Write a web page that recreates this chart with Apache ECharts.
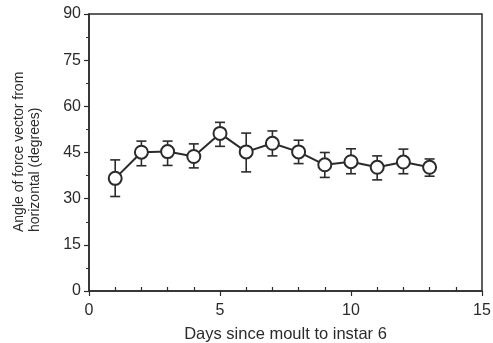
<!DOCTYPE html>
<html>
<head>
<meta charset="utf-8">
<script src="https://cdn.jsdelivr.net/npm/echarts@6/dist/echarts.min.js"></script>
<style>
html, body { margin: 0; padding: 0; background: #fff; }
#main { width: 493px; height: 343px; }
</style>
</head>
<body>
<div id="main"></div>
<script>
// days since moult, mean angle and error bar ends (degrees)
const days = [1, 2, 3, 4, 5, 6, 7, 8, 9, 10, 11, 12, 13]
const meanAngle = [36.6, 45.1, 45.3, 43.7, 51.2, 45.2, 48.0, 45.2, 41.0, 42.0, 40.2, 41.9, 40.2]
const errTop = [42.6, 48.7, 48.7, 47.8, 54.8, 51.3, 52.0, 49.0, 45.0, 46.2, 43.9, 46.1, 42.9]
const errBottom = [30.7, 40.7, 40.8, 40.0, 47.0, 38.7, 43.9, 41.4, 36.9, 38.1, 36.1, 38.1, 37.3]
const yTicks = [0, 15, 30, 45, 60, 75, 90]
const xTicks = [0, 5, 10, 15]

const ink = '#2b2b2b'
const font = 'Liberation Sans, Arial, Helvetica, sans-serif'

const chart = echarts.init(document.getElementById('main'))

chart.setOption({
    backgroundColor: '#fff',
    animation: false,
    grid: {
        left: 89,
        right: 11,
        top: 14,
        bottom: 52,
        outerBoundsMode: 'none',
        show: true,
        borderColor: ink,
        borderWidth: 1.5,
        backgroundColor: 'transparent'
    },
    xAxis: [{
        type: 'value',
        min: xTicks[0],
        max: xTicks[xTicks.length - 1],
        interval: 5,
        name: 'Days since moult to instar 6',
        nameLocation: 'middle',
        nameGap: 35,
        nameTextStyle: { color: ink, fontSize: 16.5, fontFamily: font },
        axisLine: { show: true, lineStyle: { color: ink, width: 1.5 } },
        axisTick: { show: true, length: 5, lineStyle: { color: ink, width: 1.2 } },
        minorTick: { show: false },
        axisLabel: { color: ink, fontSize: 16, fontFamily: font, margin: 12 },
        splitLine: { show: false }
    }, {
        // minor ticks of the x axis point into the plot
        type: 'value',
        position: 'bottom',
        min: xTicks[0],
        max: xTicks[xTicks.length - 1],
        interval: 5,
        axisLine: { show: false },
        axisTick: { show: false, inside: true },
        minorTick: { show: true, splitNumber: 5, length: 4, lineStyle: { color: ink, width: 1.2 } },
        axisLabel: { show: false },
        splitLine: { show: false }
    }],
    yAxis: {
        type: 'value',
        min: yTicks[0],
        max: yTicks[yTicks.length - 1],
        interval: 15,
        axisLine: { show: true, lineStyle: { color: ink, width: 1.5 } },
        axisTick: { show: true, length: 5, lineStyle: { color: ink, width: 1.2 } },
        minorTick: { show: true, splitNumber: 2, length: 3, lineStyle: { color: ink, width: 1 } },
        axisLabel: { color: ink, fontSize: 16, fontFamily: font, margin: 8 },
        splitLine: { show: false }
    },
    graphic: [{
        type: 'text',
        x: 11,
        y: 232,
        rotation: Math.PI / 2,
        style: {
            text: 'Angle of force vector from\nhorizontal (degrees)',
            fill: ink,
            font: '14px ' + font,
            lineHeight: 16,
            align: 'left',
            verticalAlign: 'top'
        }
    }],
    series: [{
        // error bars with caps
        type: 'custom',
        data: days.map((d, i) => [d, errBottom[i], errTop[i]]),
        renderItem: function (params, api) {
            const lo = api.coord([api.value(0), api.value(1)])
            const hi = api.coord([api.value(0), api.value(2)])
            const cap = 5
            const style = { stroke: ink, lineWidth: 1.6 }
            return {
                type: 'group',
                children: [
                    { type: 'line', shape: { x1: hi[0], y1: hi[1], x2: lo[0], y2: lo[1] }, style: style },
                    { type: 'line', shape: { x1: hi[0] - cap, y1: hi[1], x2: hi[0] + cap, y2: hi[1] }, style: style },
                    { type: 'line', shape: { x1: lo[0] - cap, y1: lo[1], x2: lo[0] + cap, y2: lo[1] }, style: style }
                ]
            }
        },
        z: 2
    }, {
        type: 'line',
        data: days.map((d, i) => [d, meanAngle[i]]),
        symbol: 'circle',
        symbolSize: 13,
        lineStyle: { color: ink, width: 2 },
        itemStyle: { color: '#fff', borderColor: ink, borderWidth: 2 },
        z: 3
    }]
})
</script>
</body>
</html>
